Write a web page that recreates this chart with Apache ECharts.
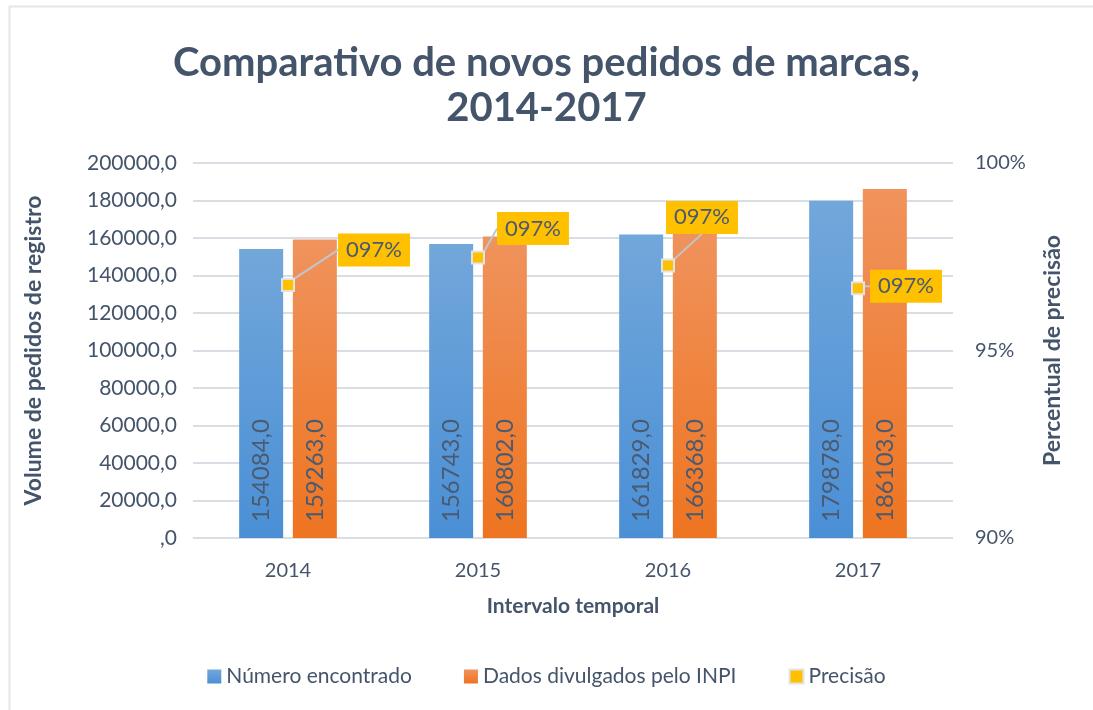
<!DOCTYPE html>
<html lang="pt" style="height: 100%">
<head>
  <meta charset="utf-8">
</head>
<body style="height: 100%; margin: 0; background: #fff">
  <div id="container" style="width: 1093px; height: 710px"></div>

  <script type="text/javascript" src="https://cdn.jsdelivr.net/npm/echarts@6/dist/echarts.min.js"></script>

  <script type="text/javascript">
    var dom = document.getElementById('container');
    var myChart = echarts.init(dom, null, { renderer: 'canvas' });

    const years = ['2014', '2015', '2016', '2017'];
    const encontrado = [154084, 156743, 161829, 179878];
    const inpi = [159263, 160802, 166368, 186103];
    const precisao = [96.75, 97.48, 97.27, 96.66];

    // label box offsets from each marker (px)
    const labelShift = [[86, -35], [55, -29], [34, -48], [48, -2]];

    const txt = '#44546a';
    const font = 'Lato, "Open Sans", sans-serif';

    function barLabel() {
      return {
        show: true,
        position: 'insideBottom',
        rotate: 90,
        align: 'left',
        verticalAlign: 'middle',
        distance: 16,
        fontSize: 24,
        fontFamily: font,
        color: '#4a5a70',
        formatter: function (p) { return p.value + ',0'; }
      };
    }

    var option = {
      backgroundColor: '#fff',
      textStyle: { fontFamily: font },
      title: {
        text: 'Comparativo de novos pedidos de marcas,\n2014-2017',
        left: 'center',
        top: 36,
        textStyle: {
          fontFamily: font,
          fontSize: 40,
          fontWeight: 'bold',
          color: txt,
          lineHeight: 45
        }
      },
      graphic: [
        { type: 'line', shape: { x1: 9, y1: 6.5, x2: 1093, y2: 6.5 }, style: { stroke: '#e3e6ea', lineWidth: 2 } },
        { type: 'line', shape: { x1: 9.5, y1: 6, x2: 9.5, y2: 710 }, style: { stroke: '#e3e6ea', lineWidth: 2 } }
      ],
      legend: {
        bottom: 18,
        left: 'center',
        itemWidth: 14,
        itemHeight: 14,
        itemGap: 52,
        textStyle: { fontSize: 21, color: txt, fontFamily: font },
        data: [
          { name: 'Número encontrado', icon: 'rect' },
          { name: 'Dados divulgados pelo INPI', icon: 'rect' },
          { name: 'Precisão', icon: 'rect', itemStyle: { color: '#ffc000', borderColor: '#e3e3e3', borderWidth: 2 } }
        ]
      },
      grid: {
        left: 193,
        right: 140,
        top: 163,
        bottom: 172
      },
      xAxis: {
        type: 'category',
        data: years,
        name: 'Intervalo temporal',
        nameLocation: 'middle',
        nameGap: 58,
        nameTextStyle: { fontSize: 21, fontWeight: 'bold', color: txt, fontFamily: font },
        axisLine: { lineStyle: { color: '#d9dde4' } },
        axisTick: { show: false },
        axisLabel: { fontSize: 20, color: txt, margin: 23 }
      },
      yAxis: [
        {
          type: 'value',
          min: 0,
          max: 200000,
          interval: 20000,
          name: 'Volume de pedidos de registro',
          nameLocation: 'middle',
          nameGap: 148,
          nameTextStyle: { fontSize: 23, fontWeight: 'bold', color: txt, fontFamily: font },
          axisLine: { show: false },
          axisTick: { show: false },
          axisLabel: {
            fontSize: 21,
            color: txt,
            margin: 16,
            formatter: function (v) { return v === 0 ? ',0' : v + ',0'; }
          },
          splitLine: { lineStyle: { color: '#d9dde4', width: 2 } }
        },
        {
          type: 'value',
          min: 90,
          max: 100,
          interval: 5,
          name: 'Percentual de precisão',
          nameLocation: 'middle',
          nameGap: 88,
          nameRotate: 90,
          nameTextStyle: { fontSize: 23, fontWeight: 'bold', color: txt, fontFamily: font },
          axisLine: { show: false },
          axisTick: { show: false },
          splitLine: { show: false },
          axisLabel: {
            fontSize: 20,
            color: txt,
            margin: 22,
            formatter: function (v) { return v + '%'; }
          }
        }
      ],
      series: [
        {
          name: 'Número encontrado',
          type: 'bar',
          data: encontrado,
          barWidth: 44,
          barGap: '22%',
          itemStyle: {
            color: new echarts.graphic.LinearGradient(0, 0, 0, 1, [
              { offset: 0, color: '#72a7da' },
              { offset: 1, color: '#4a8fd6' }
            ])
          },
          label: barLabel()
        },
        {
          name: 'Dados divulgados pelo INPI',
          type: 'bar',
          data: inpi,
          barWidth: 44,
          itemStyle: {
            color: new echarts.graphic.LinearGradient(0, 0, 0, 1, [
              { offset: 0, color: '#f0935d' },
              { offset: 1, color: '#ee7420' }
            ])
          },
          label: barLabel()
        },
        {
          name: 'Precisão',
          type: 'line',
          yAxisIndex: 1,
          data: precisao,
          z: 5,
          lineStyle: { width: 0, opacity: 0 },
          symbol: 'rect',
          symbolSize: 12,
          itemStyle: { color: '#ffc000', borderColor: '#e3e3e3', borderWidth: 2 },
          label: {
            show: true,
            position: 'inside',
            backgroundColor: '#ffc000',
            padding: [6, 8, 5, 8],
            fontSize: 22,
            color: '#4a5a70',
            fontFamily: font,
            formatter: function (p) { return '0' + Math.round(p.value) + '%'; }
          },
          labelLine: {
            show: true,
            lineStyle: { color: '#bfc6cf', width: 2 }
          },
          labelLayout: function (p) {
            var s = labelShift[p.dataIndex];
            return { dx: s[0], dy: s[1] };
          }
        }
      ]
    };

    myChart.setOption(option);
    window.addEventListener('resize', myChart.resize);
  </script>
</body>
</html>
